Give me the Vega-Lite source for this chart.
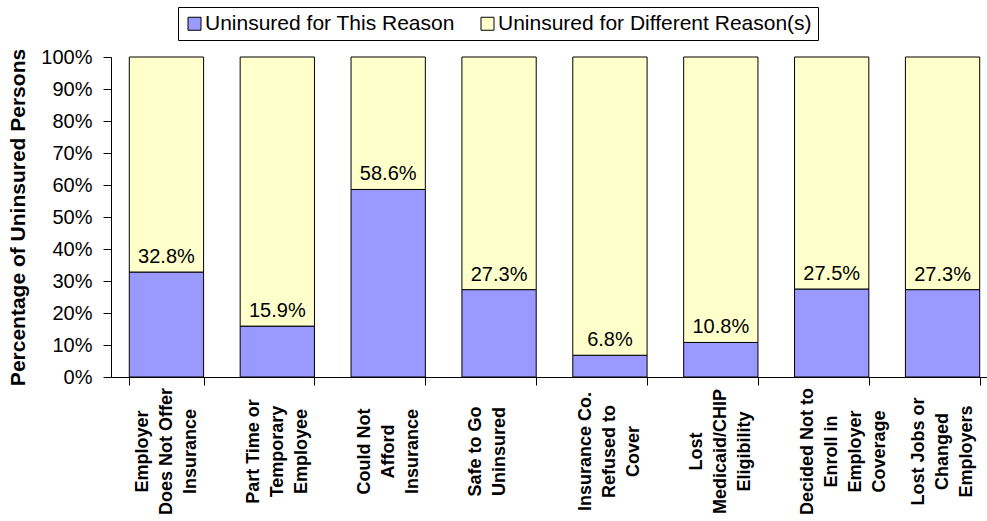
{
  "$schema": "https://vega.github.io/schema/vega-lite/v6.json",
  "autosize": "none",
  "width": 876,
  "height": 320,
  "padding": {"left": 111, "top": 57, "right": 0, "bottom": 144},
  "background": "white",
  "config": {
    "font": "Liberation Sans",
    "view": {"stroke": null},
    "axis": {"labelColor": "black", "titleColor": "black", "domainColor": "black", "tickColor": "black", "grid": false}
  },
  "data": {
    "values": [
      {"reason": "Employer|Does Not Offer|Insurance", "series": "Uninsured for This Reason", "share": 0.328},
      {"reason": "Employer|Does Not Offer|Insurance", "series": "Uninsured for Different Reason(s)", "share": 0.672},
      {"reason": "Part Time or|Temporary|Employee", "series": "Uninsured for This Reason", "share": 0.159},
      {"reason": "Part Time or|Temporary|Employee", "series": "Uninsured for Different Reason(s)", "share": 0.841},
      {"reason": "Could Not|Afford|Insurance", "series": "Uninsured for This Reason", "share": 0.586},
      {"reason": "Could Not|Afford|Insurance", "series": "Uninsured for Different Reason(s)", "share": 0.414},
      {"reason": "Safe to Go|Uninsured", "series": "Uninsured for This Reason", "share": 0.273},
      {"reason": "Safe to Go|Uninsured", "series": "Uninsured for Different Reason(s)", "share": 0.727},
      {"reason": "Insurance Co.|Refused to|Cover", "series": "Uninsured for This Reason", "share": 0.068},
      {"reason": "Insurance Co.|Refused to|Cover", "series": "Uninsured for Different Reason(s)", "share": 0.932},
      {"reason": "Lost|Medicaid/CHIP|Eligibility", "series": "Uninsured for This Reason", "share": 0.108},
      {"reason": "Lost|Medicaid/CHIP|Eligibility", "series": "Uninsured for Different Reason(s)", "share": 0.892},
      {"reason": "Decided Not to|Enroll in|Employer|Coverage", "series": "Uninsured for This Reason", "share": 0.275},
      {"reason": "Decided Not to|Enroll in|Employer|Coverage", "series": "Uninsured for Different Reason(s)", "share": 0.725},
      {"reason": "Lost Jobs or|Changed|Employers", "series": "Uninsured for This Reason", "share": 0.273},
      {"reason": "Lost Jobs or|Changed|Employers", "series": "Uninsured for Different Reason(s)", "share": 0.727}
    ]
  },
  "encoding": {
    "x": {
      "field": "reason",
      "type": "nominal",
      "sort": null,
      "scale": {"range": [0, 887], "paddingInner": 0.33, "paddingOuter": 0.165},
      "axis": {
        "title": null,
        "labelExpr": "split(datum.label, '|')",
        "labelAngle": 270,
        "labelAlign": "center",
        "labelBaseline": "middle",
        "labelFontSize": 18,
        "labelFontWeight": "bold",
        "labelLineHeight": 24,
        "labelOffset": -24,
        "labelPadding": 66,
        "labelLimit": 400,
        "labelOverlap": false,
        "tickSize": 8,
        "tickBand": "extent"
      }
    },
    "y": {
      "field": "share",
      "type": "quantitative",
      "stack": "zero",
      "scale": {"domain": [0, 1], "nice": false},
      "axis": {
        "title": "Percentage of Uninsured Persons",
        "titleFontSize": 21,
        "titleFontWeight": "bold",
        "titlePadding": 12,
        "format": ".0%",
        "values": [0, 0.1, 0.2, 0.3, 0.4, 0.5, 0.6, 0.7, 0.8, 0.9, 1],
        "labelOverlap": false,
        "labelFontSize": 20,
        "labelPadding": 11,
        "tickSize": 8
      }
    }
  },
  "layer": [
    {
      "mark": {"type": "bar", "stroke": "black", "strokeWidth": 1},
      "encoding": {
        "order": {"field": "series", "sort": "descending"},
        "color": {
          "field": "series",
          "type": "nominal",
          "scale": {
            "domain": ["Uninsured for This Reason", "Uninsured for Different Reason(s)"],
            "range": ["#9999FF", "#FFFFCC"]
          },
          "legend": {
            "orient": "none",
            "legendX": 67,
            "legendY": -50,
            "direction": "horizontal",
            "title": null,
            "strokeColor": "black",
            "padding": 6,
            "symbolType": "square",
            "symbolSize": 169,
            "symbolStrokeColor": "black",
            "symbolStrokeWidth": 1,
            "symbolOpacity": 1,
            "labelFontSize": 21,
            "labelColor": "black",
            "labelLimit": 0,
            "labelOffset": 0,
            "columnPadding": 22
          }
        }
      }
    },
    {
      "transform": [{"filter": "datum.series == 'Uninsured for This Reason'"}],
      "mark": {"type": "text", "baseline": "bottom", "dy": -5, "fontSize": 20, "color": "black"},
      "encoding": {
        "text": {"field": "share", "type": "quantitative", "format": ".1%"}
      }
    }
  ]
}
